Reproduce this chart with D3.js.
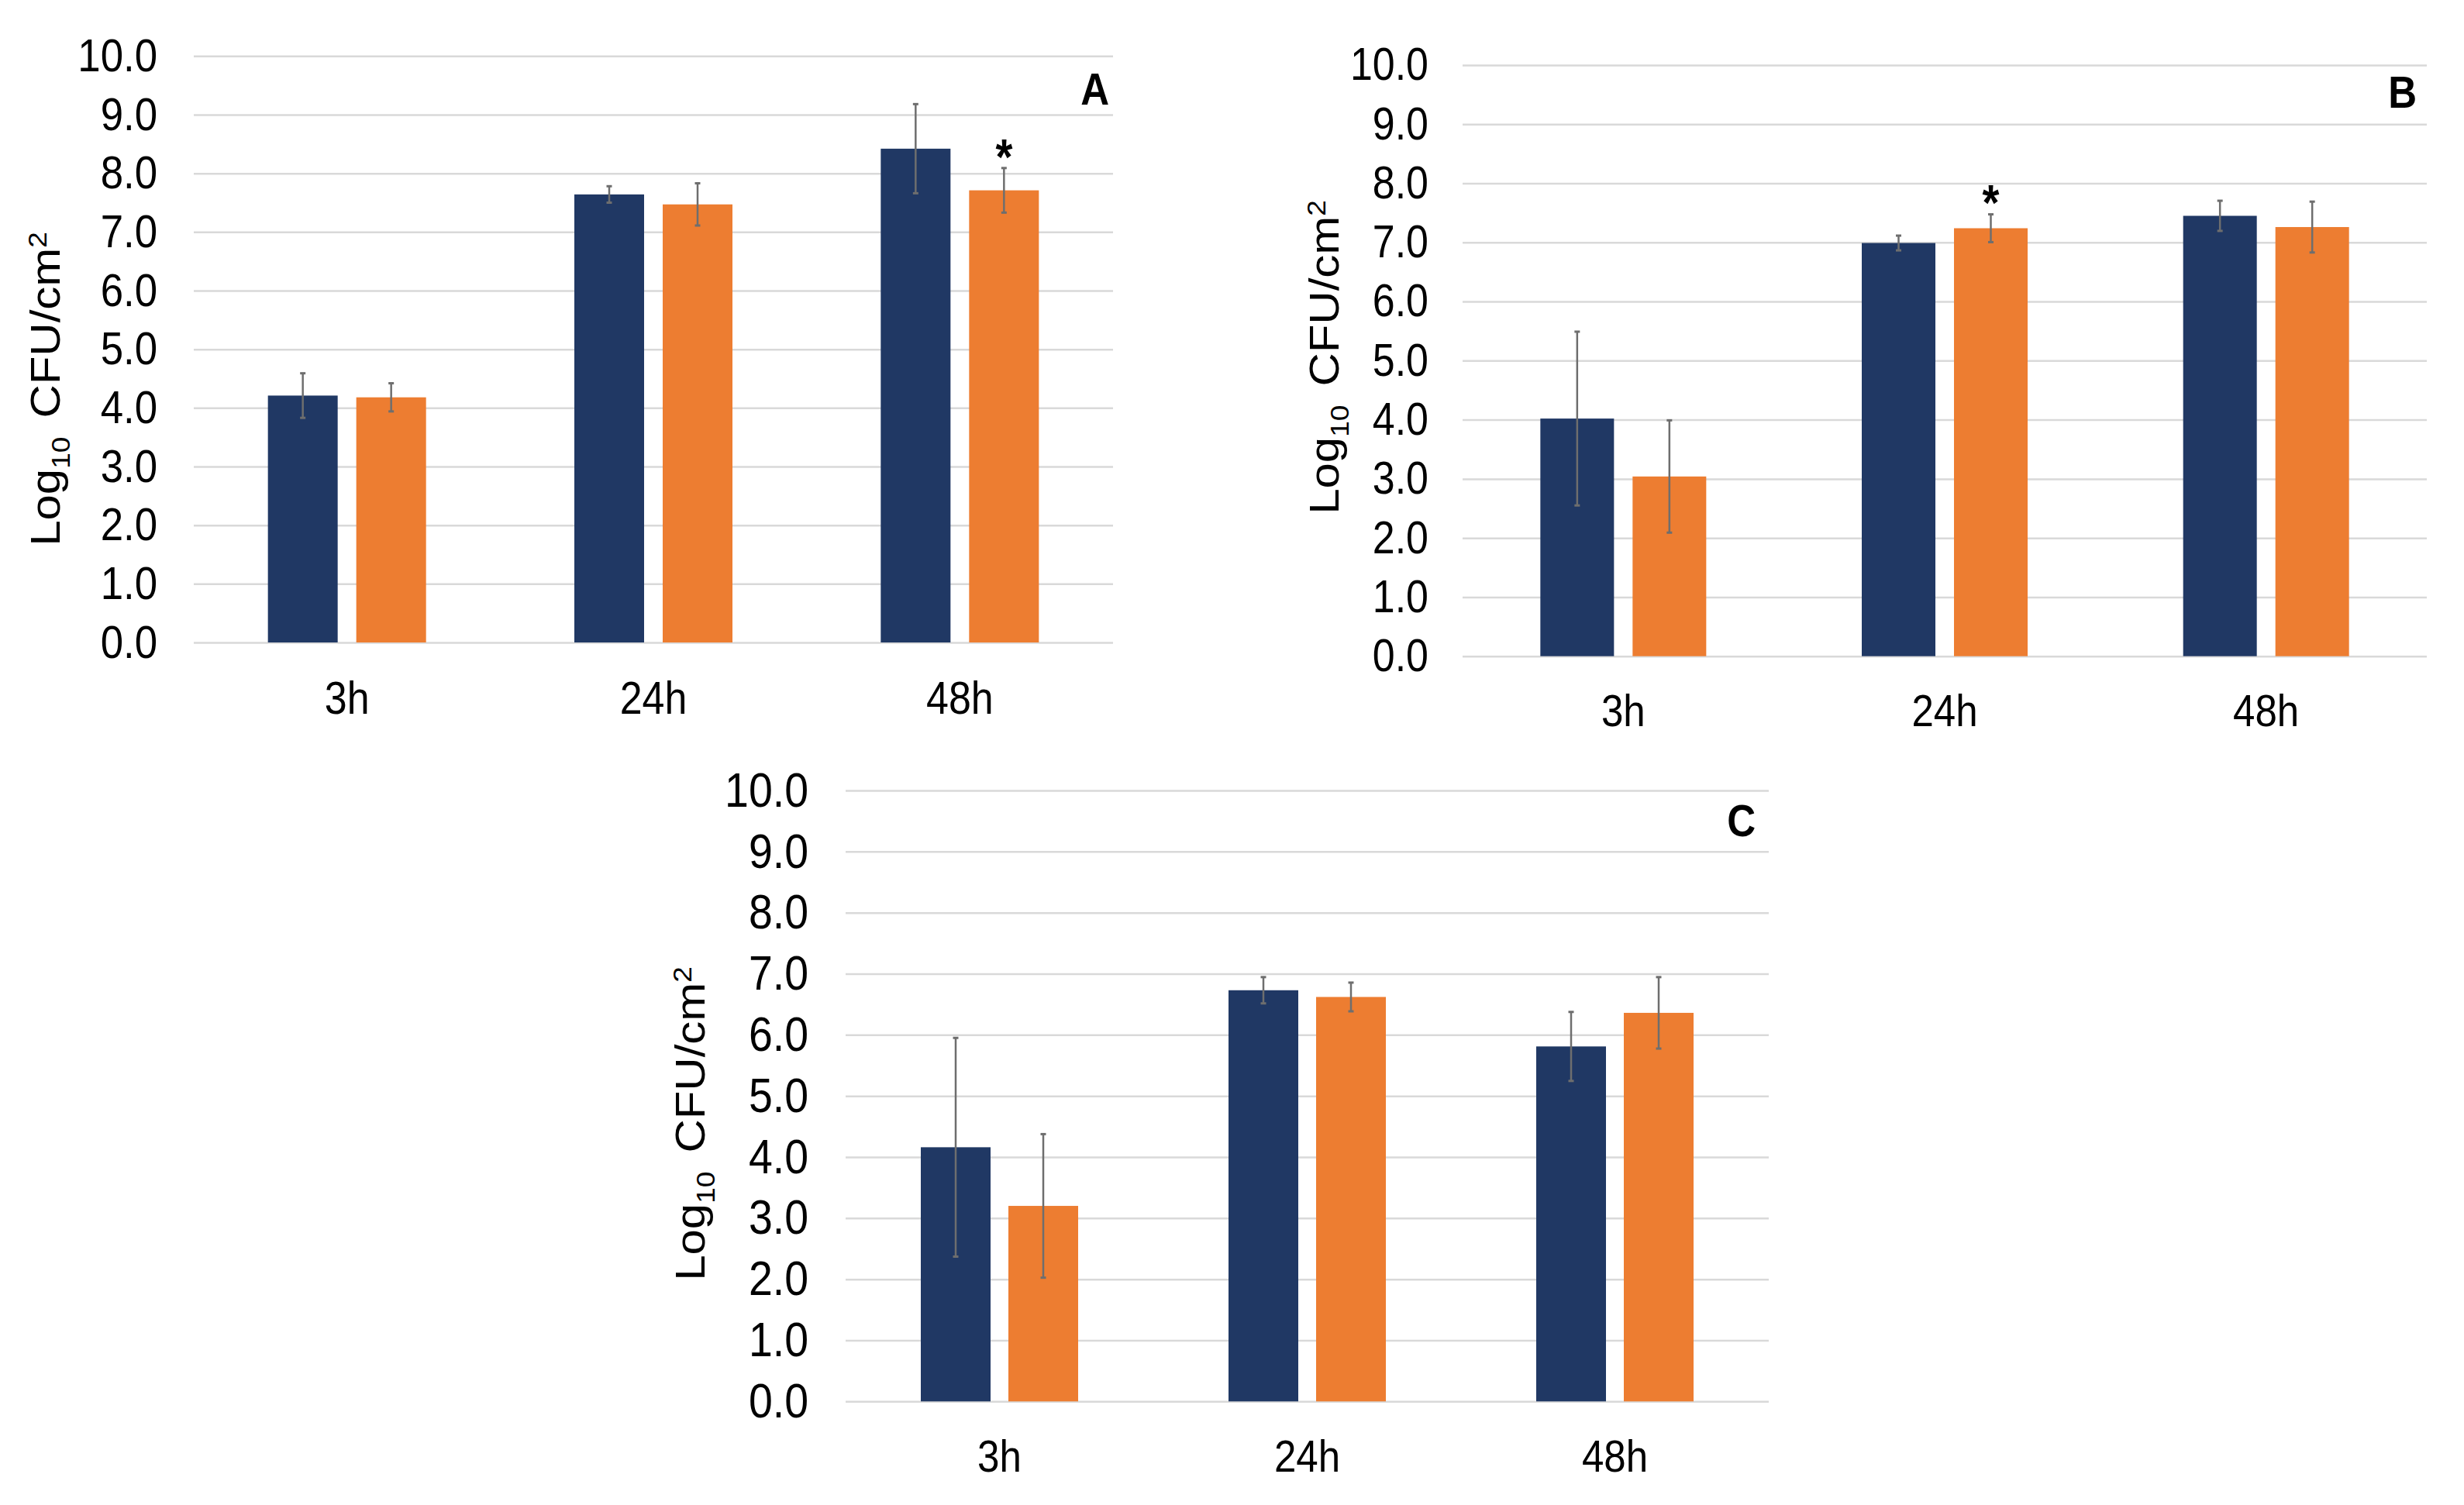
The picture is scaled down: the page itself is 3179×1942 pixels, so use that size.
<!DOCTYPE html>
<html>
<head>
<meta charset="utf-8">
<script src="https://cdn.jsdelivr.net/npm/d3@7"></script>
<style>
  body { margin: 0; background: #fff; }
</style>
</head>
<body>
<script>
// three grouped bar panels (A, B, C), log10 CFU/cm2 at 3h / 24h / 48h

const categories = ["3h", "24h", "48h"];
const seriesColors = ["#203864", "#ed7d31"];
const yTicks = [0, 1, 2, 3, 4, 5, 6, 7, 8, 9, 10];

// panel A
const meansA1 = [4.21, 7.64, 8.42];
const errsA1  = [0.38, 0.14, 0.76];
const meansA2 = [4.18, 7.47, 7.71];
const errsA2  = [0.24, 0.36, 0.38];
const starsA  = [["48h", 1]];

// panel B
const meansB1 = [4.02, 6.99, 7.45];
const errsB1  = [1.47, 0.125, 0.255];
const meansB2 = [3.04, 7.24, 7.26];
const errsB2  = [0.95, 0.235, 0.43];
const starsB  = [["24h", 1]];

// panel C
const meansC1 = [4.16, 6.73, 5.81];
const errsC1  = [1.79, 0.215, 0.565];
const meansC2 = [3.20, 6.62, 6.36];
const errsC2  = [1.175, 0.235, 0.585];
const starsC  = [];

const W = 3179, H = 1942;
const SQ = 0.88;   // the figure text is squeezed horizontally
const sans = "'Liberation Sans', Arial, Helvetica, sans-serif";

let svg = d3.select("body").append("svg")
  .attr("width", W).attr("height", H);
svg.append("rect").attr("width", W).attr("height", H).attr("fill", "#fff");

function drawPanel(p)
{
  let g = svg.append("g");

  let y = d3.scaleLinear().domain([0, 10]).range([p.y0, p.y10]);
  let x = d3.scaleBand().domain(categories).range([p.left, p.right]);
  let half = p.barW + p.gap / 2;
  let inner = d3.scaleBand().domain([0, 1]).range([-half, half])
    .paddingInner(p.gap / (p.barW + p.gap));

  // gridlines and tick labels
  let ax = g.append("g").attr("transform", `translate(${p.left},0)`)
    .call(d3.axisLeft(y).tickValues(yTicks).tickFormat(d3.format(".1f"))
      .tickSize(-(p.right - p.left)).tickPadding(0));
  ax.select(".domain").remove();
  ax.selectAll(".tick line").attr("stroke", "#d9d9d9").attr("stroke-width", 2.5);
  ax.selectAll(".tick text")
    .attr("x", -(p.left - p.tickRight) / SQ)
    .attr("transform", `scale(${SQ},1)`)
    .attr("font-size", p.tickFs)
    .attr("font-family", sans)
    .attr("fill", "#000");

  // bars + error bars
  p.means.forEach(function(vals, s) {
    let rows = categories.map((c, i) => ({c: c, v: vals[i], e: p.errs[s][i]}));
    let cx = d => x(d.c) + x.bandwidth() / 2 + inner(s) + inner.bandwidth() / 2;

    g.append("g").selectAll("rect").data(rows).enter().append("rect")
      .attr("x", d => x(d.c) + x.bandwidth() / 2 + inner(s))
      .attr("width", inner.bandwidth())
      .attr("y", d => y(d.v))
      .attr("height", d => y(0) - y(d.v))
      .attr("fill", seriesColors[s]);

    let eb = g.append("g").attr("stroke", "#6e6e6e");
    eb.selectAll("line.stem").data(rows).enter().append("line")
      .attr("class", "stem")
      .attr("x1", cx).attr("x2", cx)
      .attr("y1", d => y(d.v + d.e)).attr("y2", d => y(d.v - d.e))
      .attr("stroke-width", 2.5);
    [1, -1].forEach(function(sign) {
      eb.selectAll("line.cap" + sign).data(rows).enter().append("line")
        .attr("x1", d => cx(d) - 3.5).attr("x2", d => cx(d) + 3.5)
        .attr("y1", d => y(d.v + sign * d.e)).attr("y2", d => y(d.v + sign * d.e))
        .attr("stroke-width", 3);
    });
  });

  // significance stars
  p.stars.forEach(function(st) {
    let i = categories.indexOf(st[0]), s = st[1];
    let top = y(p.means[s][i] + p.errs[s][i]);
    let sx = x(st[0]) + x.bandwidth() / 2 + inner(s) + inner.bandwidth() / 2;
    g.append("text").text("*")
      .attr("transform", `translate(${sx},${top - 28 + 0.56 * 64}) scale(${SQ},1)`)
      .attr("text-anchor", "middle")
      .attr("font-family", sans).attr("font-weight", "bold")
      .attr("font-size", 64);
  });

  // category labels
  g.append("g").selectAll("text").data(categories).enter().append("text")
    .text(d => d)
    .attr("transform", d => `translate(${x(d) + x.bandwidth() / 2},${p.catY}) scale(${SQ},1)`)
    .attr("text-anchor", "middle")
    .attr("font-family", sans)
    .attr("font-size", p.catFs);

  // panel letter
  g.append("text").text(p.letter)
    .attr("transform", `translate(${p.letterX},${p.letterY}) scale(${SQ},1)`)
    .attr("text-anchor", "end")
    .attr("font-family", sans).attr("font-weight", "bold")
    .attr("font-size", 58);

  // y axis title
  let yt = g.append("text")
    .attr("transform", `translate(${p.labX},${p.labY}) scale(${SQ},1) rotate(-90)`)
    .attr("text-anchor", "middle")
    .attr("font-family", sans)
    .attr("font-size", 60);
  yt.append("tspan").text("Log");
  yt.append("tspan").text("10").attr("font-size", 37).attr("dy", 15);
  yt.append("tspan").text("CFU/cm").attr("dy", -15).attr("dx", 24);
  yt.append("tspan").text("2").attr("font-size", 37).attr("dy", -19);
}

drawPanel({
  letter: "A", means: [meansA1, meansA2], errs: [errsA1, errsA2], stars: starsA,
  left: 250, right: 1436, y0: 829, y10: 72.3, tickRight: 203, tickFs: 60,
  barW: 90, gap: 24, catY: 921, catFs: 59,
  letterX: 1431, letterY: 135, labX: 77, labY: 502
});

drawPanel({
  letter: "B", means: [meansB1, meansB2], errs: [errsB1, errsB2], stars: starsB,
  left: 1887, right: 3131, y0: 846.7, y10: 84, tickRight: 1843, tickFs: 59,
  barW: 95, gap: 24, catY: 937, catFs: 58,
  letterX: 3118, letterY: 139, labX: 1727, labY: 461
});

drawPanel({
  letter: "C", means: [meansC1, meansC2], errs: [errsC1, errsC2], stars: starsC,
  left: 1091, right: 2282, y0: 1808.3, y10: 1020, tickRight: 1043, tickFs: 63,
  barW: 90, gap: 23, catY: 1899, catFs: 58,
  letterX: 2265, letterY: 1079, labX: 909, labY: 1450
});
</script>
</body>
</html>
